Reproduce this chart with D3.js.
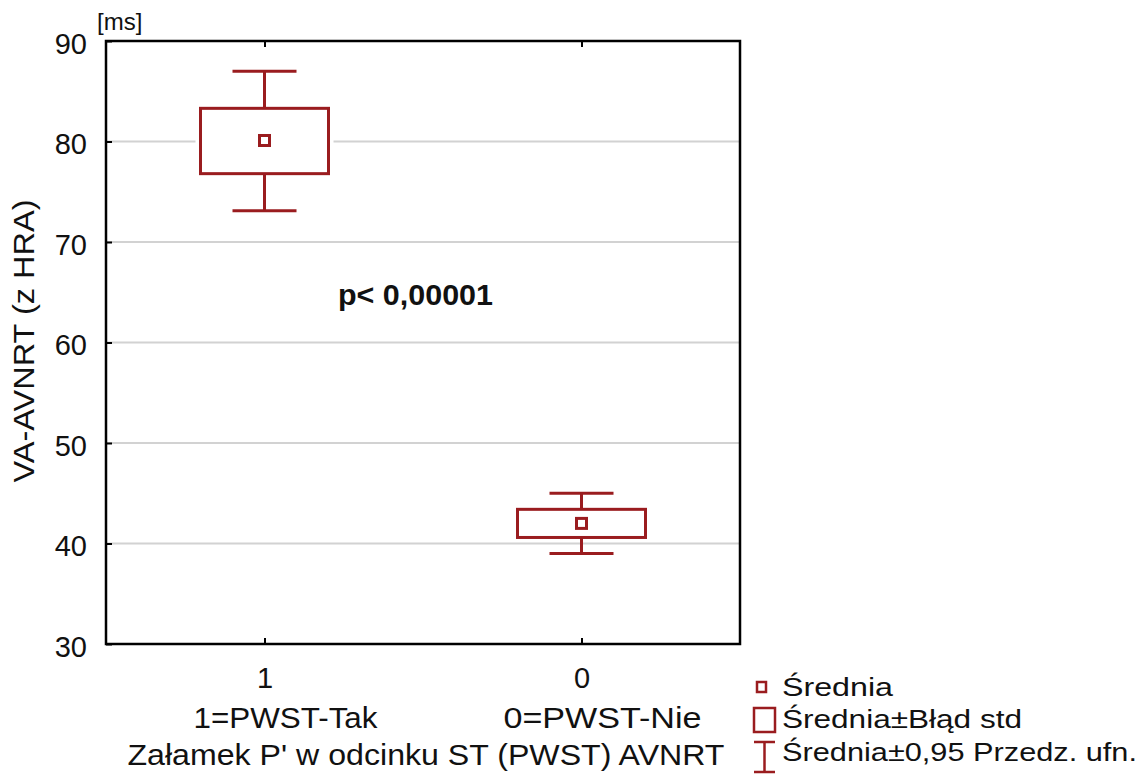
<!DOCTYPE html>
<html><head><meta charset="utf-8">
<script src="https://cdnjs.cloudflare.com/ajax/libs/d3/7.8.5/d3.min.js"></script>
<style>body{margin:0;background:#fff}svg{display:block}text{font-family:Arial,"Liberation Sans",sans-serif}</style>
</head><body><svg id="c" width="1143" height="778"></svg>
<script>
const categories = ["1", "0"];
const categoryLabels = ["1=PWST-Tak", "0=PWST-Nie"];
const means = [80.1, 42.0];
const seLow = [76.8, 40.6];
const seHigh = [83.3, 43.4];
const ciLow = [73.1, 39.0];
const ciHigh = [87.0, 45.0];
const yTicks = [30, 40, 50, 60, 70, 80, 90];
const legendLabels = ["Średnia", "Średnia±Błąd std", "Średnia±0,95 Przedz. ufn."];

const red = "#9a1c1f";
const ink = "#111";
const svg = d3.select("#c");
const m = {l: 106, r: 740, t: 41, b: 644};
const x = d3.scalePoint().domain(categories).range([m.l, m.r]).padding(0.5);
const y = d3.scaleLinear().domain([30, 90]).range([m.b, m.t]);

// gridlines
svg.append("g").selectAll("line").data(yTicks.filter(d => d > 30 && d < 90)).join("line")
  .attr("x1", m.l).attr("x2", m.r).attr("y1", d => y(d)).attr("y2", d => y(d))
  .attr("stroke", "#d2d2d2").attr("stroke-width", 2);

// axes
const yAxis = d3.axisLeft(y).tickValues(yTicks).tickSize(-6).tickPadding(19);
const gy = svg.append("g").attr("transform", `translate(${m.l},0)`).call(yAxis);
gy.select(".domain").remove();
gy.selectAll("line").attr("stroke", "#000").attr("stroke-width", 2);
gy.selectAll("text").attr("font-size", 29).attr("fill", ink).attr("dy", "0.42em");

const xAxis = d3.axisBottom(x).tickSize(-6).tickPadding(23);
const gx = svg.append("g").attr("transform", `translate(0,${m.b})`).call(xAxis);
gx.select(".domain").remove();
gx.selectAll("line").attr("stroke", "#000").attr("stroke-width", 2);
gx.selectAll("text").attr("font-size", 29).attr("fill", ink);

const gxt = svg.append("g").attr("transform", `translate(0,${m.t})`).call(d3.axisTop(x).tickSize(-6).tickFormat(""));
gxt.select(".domain").remove();
gxt.selectAll("line").attr("stroke", "#000").attr("stroke-width", 2);

// frame
svg.append("rect").attr("x", m.l).attr("y", m.t).attr("width", m.r - m.l).attr("height", m.b - m.t)
  .attr("fill", "none").attr("stroke", "#000").attr("stroke-width", 2.5);

// boxes
const boxW = 128, capW = 64, mk = 10;
const g = svg.append("g").selectAll("g").data(categories).join("g");
g.append("line").attr("x1", d => x(d)).attr("x2", d => x(d))
  .attr("y1", (d, i) => y(ciHigh[i])).attr("y2", (d, i) => y(ciLow[i])).attr("stroke", red).attr("stroke-width", 3);
g.append("line").attr("x1", d => x(d) - capW / 2).attr("x2", d => x(d) + capW / 2)
  .attr("y1", (d, i) => y(ciHigh[i])).attr("y2", (d, i) => y(ciHigh[i])).attr("stroke", red).attr("stroke-width", 3);
g.append("line").attr("x1", d => x(d) - capW / 2).attr("x2", d => x(d) + capW / 2)
  .attr("y1", (d, i) => y(ciLow[i])).attr("y2", (d, i) => y(ciLow[i])).attr("stroke", red).attr("stroke-width", 3);
g.append("rect").attr("x", d => x(d) - boxW / 2 - 5).attr("width", boxW + 10)
  .attr("y", (d, i) => y(seHigh[i]) + 3).attr("height", (d, i) => y(seLow[i]) - y(seHigh[i]) - 6)
  .attr("fill", "#fff");
g.append("rect").attr("x", d => x(d) - boxW / 2).attr("width", boxW)
  .attr("y", (d, i) => y(seHigh[i])).attr("height", (d, i) => y(seLow[i]) - y(seHigh[i]))
  .attr("fill", "#fff").attr("stroke", red).attr("stroke-width", 3);
g.append("rect").attr("x", d => x(d) - mk / 2).attr("width", mk)
  .attr("y", (d, i) => y(means[i]) - mk / 2).attr("height", mk)
  .attr("fill", "#fff").attr("stroke", red).attr("stroke-width", 3);

// category labels
svg.append("g").selectAll("text").data(categories).join("text")
  .attr("x", d => x(d) + 21).attr("y", 728).attr("text-anchor", "middle")
  .attr("font-size", 29).attr("fill", ink)
  .attr("textLength", (d, i) => [184, 198][i]).attr("lengthAdjust", "spacingAndGlyphs")
  .text((d, i) => categoryLabels[i]);

svg.append("text").attr("x", 426).attr("y", 765).attr("text-anchor", "middle")
  .attr("font-size", 29).attr("fill", ink)
  .attr("textLength", 597).attr("lengthAdjust", "spacingAndGlyphs")
  .text("Załamek P' w odcinku ST (PWST) AVNRT");

svg.append("text").attr("transform", "translate(34,341) rotate(-90)").attr("text-anchor", "middle")
  .attr("font-size", 30).attr("fill", ink)
  .attr("textLength", 283).attr("lengthAdjust", "spacingAndGlyphs")
  .text("VA-AVNRT (z HRA)");

svg.append("text").attr("x", 97).attr("y", 30).attr("font-size", 24).attr("fill", ink).text("[ms]");

svg.append("text").attr("x", 338).attr("y", 305).attr("font-size", 30).attr("font-weight", "bold")
  .attr("fill", ink).attr("textLength", 155).attr("lengthAdjust", "spacingAndGlyphs").text("p< 0,00001");

// legend
const lx = 782;
const ly = [696, 728, 761];
const lg = svg.append("g");
lg.append("rect").attr("x", 757).attr("y", 682).attr("width", 9).attr("height", 10)
  .attr("fill", "#fff").attr("stroke", red).attr("stroke-width", 2.5);
lg.append("rect").attr("x", 754).attr("y", 708).attr("width", 21).attr("height", 24)
  .attr("fill", "#fff").attr("stroke", red).attr("stroke-width", 2.5);
lg.append("line").attr("x1", 764.5).attr("x2", 764.5).attr("y1", 742).attr("y2", 772).attr("stroke", red).attr("stroke-width", 2.5);
lg.append("line").attr("x1", 754).attr("x2", 775).attr("y1", 742).attr("y2", 742).attr("stroke", red).attr("stroke-width", 2.5);
lg.append("line").attr("x1", 754).attr("x2", 775).attr("y1", 772).attr("y2", 772).attr("stroke", red).attr("stroke-width", 2.5);
lg.selectAll("text.l").data(legendLabels).join("text").attr("class", "l")
  .attr("x", lx).attr("y", (d, i) => ly[i]).attr("font-size", 25).attr("fill", ink)
  .attr("textLength", (d, i) => [111, 240, 355][i]).attr("lengthAdjust", "spacingAndGlyphs")
  .text(d => d);
</script></body></html>
